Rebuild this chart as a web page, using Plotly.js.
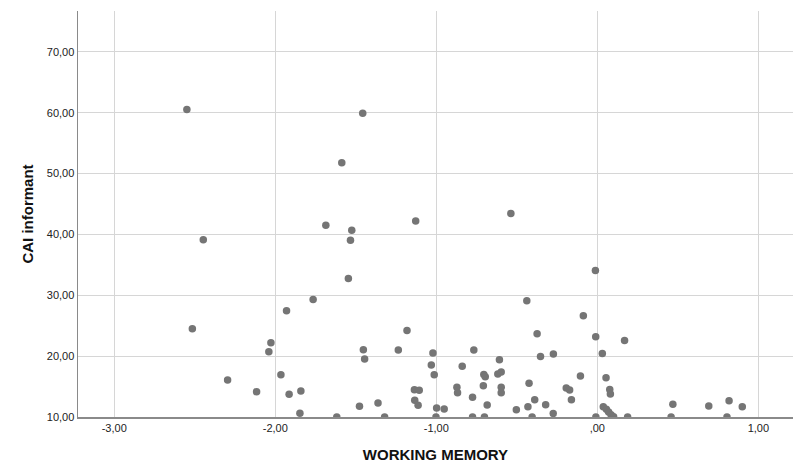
<!DOCTYPE html>
<html>
<head>
<meta charset="utf-8">
<script src="https://cdn.plot.ly/plotly-3.0.1.min.js"></script>
<style>
  html, body { margin: 0; padding: 0; background: #ffffff; }
  #chart { width: 797px; height: 472px; }
</style>
</head>
<body>
<div id="chart"></div>
<script>
// Working memory z-scores against CAI informant scores, one point per case
const workingMemory = [
  -2.549, -1.457, -1.587, -1.686, -1.525, -2.447, -1.533, -1.546, -1.765, -1.930,
  -2.515, -2.027, -2.040, -1.453, -1.445, -1.236, -1.965, -2.296, -2.116, -1.914,
  -1.841, -1.477, -1.362, -1.847, -1.618, -1.321, -1.128, -0.537, -0.012, -0.438,
  -0.087, -1.182, -0.374, -0.010, 0.169, -0.767, -1.021, -0.273, -0.353, 0.031,
  -0.608, -1.031, -0.839, -1.013, -0.705, -0.696, -0.618, -0.597, -0.105, 0.054,
  -0.424, -0.708, -0.872, -0.868, -1.136, -1.106, -0.597, -0.597, -0.193, -0.172,
  0.077, 0.081, -0.775, -1.134, -1.113, -0.389, -0.161, -0.684, -0.321, -0.431,
  -0.503, -0.998, -0.951, 0.469, 0.692, 0.818, 0.900, -0.274, 0.037, 0.056,
  0.070, 0.085, 0.101, -1.002, -0.775, -0.701, -0.405, -0.009, 0.188, 0.458,
  0.805
];
const caiInformant = [
  60.5, 59.9, 51.76, 41.5, 40.7, 39.1, 39.05, 32.77, 29.3, 27.46,
  24.5, 22.2, 20.7, 21.05, 19.52, 21.0, 16.95, 16.08, 14.16, 13.72,
  14.27, 11.75, 12.3, 10.62, 10.0, 10.0, 42.2, 43.45, 34.08, 29.1,
  26.64, 24.2, 23.68, 23.19, 22.55, 21.0, 20.5, 20.37, 19.93, 20.42,
  19.4, 18.54, 18.32, 16.95, 17.0, 16.6, 17.06, 17.39, 16.73, 16.43,
  15.53, 15.15, 14.87, 13.99, 14.48, 14.4, 14.9, 14.0, 14.76, 14.45,
  14.52, 13.78, 13.23, 12.76, 11.95, 12.85, 12.82, 11.97, 12.02, 11.7,
  11.18, 11.48, 11.31, 12.08, 11.81, 12.65, 11.67, 10.58, 11.7, 11.26,
  10.82, 10.38, 10.05, 10.0, 10.0, 10.0, 10.0, 10.0, 10.0, 10.0,
  10.0
];

// Axis ticks, written with a decimal comma
const xTickValues = [-3, -2, -1, 0, 1];
const xTickLabels = ["-3,00", "-2,00", "-1,00", ",00", "1,00"];
const yTickValues = [10, 20, 30, 40, 50, 60, 70];
const yTickLabels = ["10,00", "20,00", "30,00", "40,00", "50,00", "60,00", "70,00"];

const xTitle = "WORKING MEMORY";
const yTitle = "CAI informant";

const fontFamily = "Liberation Sans, Arial, sans-serif";

const trace = {
  type: "scatter",
  mode: "markers",
  x: workingMemory,
  y: caiInformant,
  marker: { color: "#757575", size: 7.5, line: { width: 0 } },
  hoverinfo: "skip"
};

const layout = {
  width: 797,
  height: 472,
  margin: { l: 78, r: 4, t: 11, b: 55, pad: 0 },
  paper_bgcolor: "#ffffff",
  plot_bgcolor: "#ffffff",
  showlegend: false,
  font: { family: fontFamily, size: 11, color: "#222222" },
  xaxis: {
    range: [-3.225, 1.215],
    tickvals: xTickValues,
    ticktext: xTickLabels,
    ticks: "",
    showgrid: true,
    gridcolor: "#d6d6d6",
    gridwidth: 1.2,
    zeroline: false,
    showline: true,
    linecolor: "#8a8a8a",
    linewidth: 1.5,
    tickfont: { family: fontFamily, size: 11, color: "#222222" },
    title: { text: xTitle, font: { family: fontFamily, size: 15, color: "#111111", weight: "bold" }, standoff: 17 }
  },
  yaxis: {
    range: [10, 76.7],
    tickvals: yTickValues,
    ticktext: yTickLabels,
    ticks: "",
    showgrid: true,
    gridcolor: "#d6d6d6",
    gridwidth: 1.2,
    zeroline: false,
    showline: true,
    linecolor: "#8a8a8a",
    linewidth: 1.5,
    tickfont: { family: fontFamily, size: 11, color: "#222222" },
    title: { text: yTitle, font: { family: fontFamily, size: 15, color: "#111111", weight: "bold" }, standoff: 9 }
  }
};

Plotly.newPlot("chart", [trace], layout, { displayModeBar: false, staticPlot: true });
</script>
</body>
</html>
